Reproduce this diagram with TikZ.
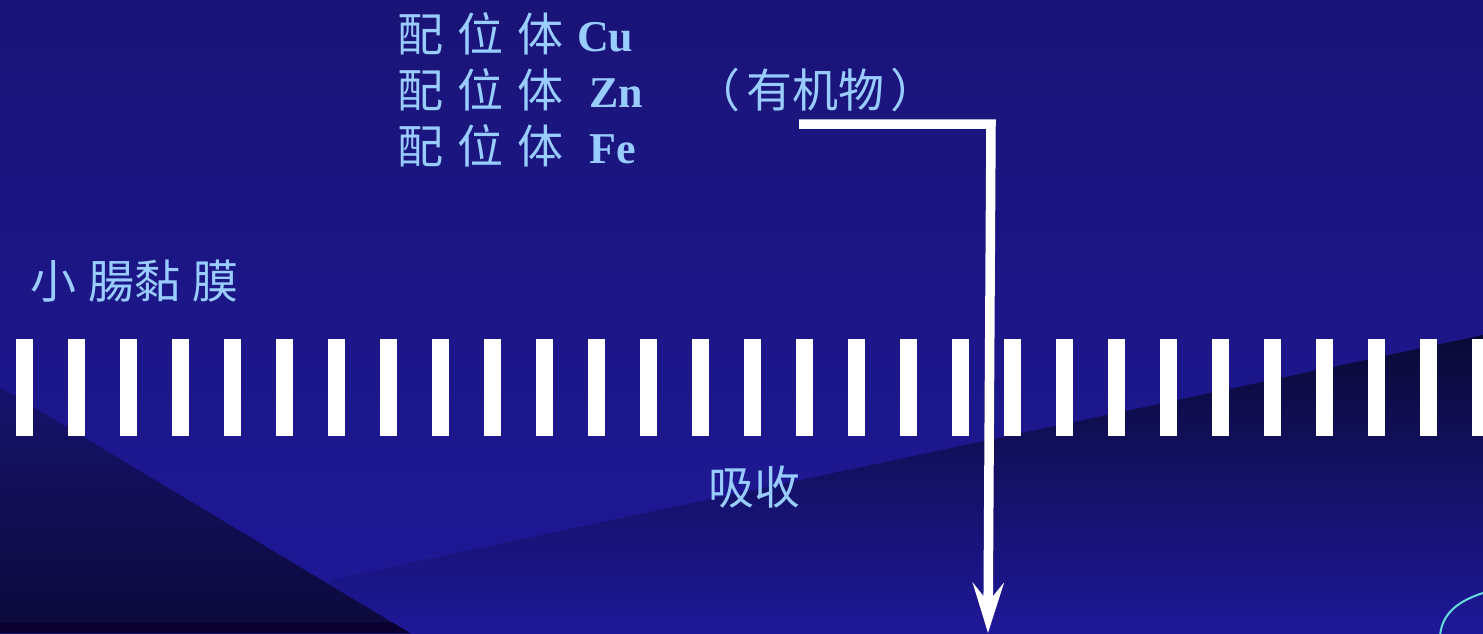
\documentclass[tikz,border=0pt]{standalone}
\usepackage{fontspec}
\setmainfont{Liberation Serif}
\newfontfamily\cjk{Noto Sans CJK SC}
\usetikzlibrary{arrows.meta}
\definecolor{bgtop}{HTML}{1A1478}
\definecolor{bgbot}{HTML}{1E1898}
\definecolor{wedgetop}{HTML}{16126C}
\definecolor{wedgebot}{HTML}{0C0A3A}
\definecolor{darkband}{HTML}{0A0030}
\definecolor{shadetop}{HTML}{0A0A36}
\definecolor{txt}{HTML}{99CCFF}
\definecolor{arccol}{HTML}{66DDDD}
\newcommand\latn[1]{{\rmfamily\bfseries\fontsize{44}{44}\selectfont #1}}
\begin{document}
\begin{tikzpicture}[x=1pt,y=-1pt,
  lbl/.style={text=txt, inner sep=0pt, anchor=base west, font=\fontsize{46}{46}\selectfont\cjk},
  stripe/.style={fill=white, draw=none},
  flow/.style={draw=white, line width=9.5pt, -{Stealth[length=50pt,width=31pt,inset=19pt]}}
]
\useasboundingbox (0,0) rectangle (1483,633);
\clip (0,0) rectangle (1483,633);
\shade[top color=bgtop,bottom color=bgbot] (0,0) rectangle (1483,633);
\shade[top color=shadetop,bottom color=bgbot] (330,580) -- (1483,335) -- (1483,633) -- (330,633) -- cycle;
\shade[top color=wedgetop,bottom color=wedgebot] (0,387) -- (410,633) -- (0,633) -- cycle;
\fill[darkband] (0,623) -- (393,623) -- (410,633) -- (0,633) -- cycle;
\foreach \i in {0,...,28} \fill[stripe] (16+52*\i,339) rectangle ++(16.5,97);
\draw[arccol, line width=2pt] (1440,636) .. controls (1442,612) and (1460,600) .. (1486,592);

\node[lbl] (l1) at (397,51) {配\hspace{14pt}位\hspace{14pt}体\hspace{14pt}\latn{Cu}};
\node[lbl] (l2) at (397,107) {配\hspace{14pt}位\hspace{14pt}体\hspace{26pt}\latn{Zn}};
\node[lbl] (l3) at (397,163) {配\hspace{14pt}位\hspace{14pt}体\hspace{26pt}\latn{Fe}};
\node[lbl] (org) at (694,107) {（\hspace{6pt}有机物\hspace{6pt}）};
\node[lbl] (mucosa) at (30,298) {小\hspace{12pt}腸黏\hspace{12pt}膜};
\node[lbl] (absorb) at (708,504) {吸收};

\coordinate (start) at (799,124);
\coordinate (corner) at (991,124);
\coordinate (end) at (988,633);
\draw[flow] (start) -- (corner) -- (end);
\end{tikzpicture}
\end{document}
